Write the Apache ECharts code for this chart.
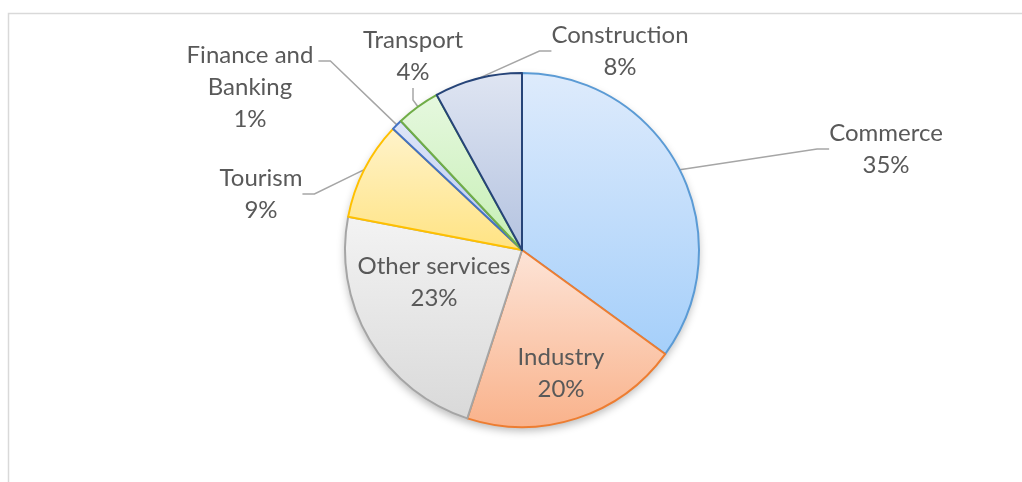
<!DOCTYPE html>
<html>
<head>
<meta charset="utf-8">
<script src="https://cdn.jsdelivr.net/npm/echarts@6/dist/echarts.min.js"></script>
<style>
  html, body { margin: 0; padding: 0; background: #fff; }
  #chart { width: 1022px; height: 482px; }
</style>
</head>
<body>
<div id="chart"></div>
<script>
const sectors = ['Commerce', 'Industry', 'Other services', 'Tourism', 'Finance and Banking', 'Transport', 'Construction'];
const shares = [35, 20, 23, 9, 1, 4, 8];
const borderColors = ['#5b9bd5', '#ed7d31', '#a5a5a5', '#ffc000', '#4472c4', '#70ad47', '#264478'];
const topColors = ['#deebfc', '#fde4d7', '#f3f3f3', '#fff3cb', '#dfe6f8', '#e6f8df', '#dfe5f2'];
const bottomColors = ['#a5cffa', '#f9b28b', '#d9d9d9', '#ffe382', '#b7c8ef', '#c6efb4', '#b4c3e0'];
const insideLabels = ['Other services', 'Industry'];

// where each label block is centred
const labelSpots = {
    'Commerce': [886, 149],
    'Industry': [561, 373],
    'Other services': [434, 282],
    'Tourism': [261, 194],
    'Finance and Banking': [250, 87],
    'Transport': [413, 56],
    'Construction': [620, 51]
};

const CX = 522, CY = 250, R = 177;
const total = shares.reduce((a, b) => a + b, 0);

const chart = echarts.init(document.getElementById('chart'));

const pieData = sectors.map((name, i) => ({
    name: name,
    value: shares[i],
    itemStyle: {
        borderColor: borderColors[i],
        color: new echarts.graphic.LinearGradient(0, 0, 0, 1, [
            { offset: 0, color: topColors[i] },
            { offset: 1, color: bottomColors[i] }
        ])
    },
    labelLine: { show: insideLabels.indexOf(name) < 0 }
}));

// point on the rim in the middle of a slice
function rimPoint(idx) {
    let before = 0;
    for (let i = 0; i < idx; i++) before += shares[i];
    const a = (before + shares[idx] / 2) / total * Math.PI * 2;
    return [CX + Math.sin(a) * R, CY - Math.cos(a) * R];
}

chart.setOption({
    animation: false,
    graphic: [{
        type: 'rect',
        shape: { x: 8.5, y: 13.5, width: 1100, height: 600 },
        style: { fill: 'none', stroke: '#d9d9d9', lineWidth: 1.5 },
        silent: true
    }],
    series: [
        {
            // soft shadow under the pie
            type: 'pie',
            center: [CX, CY],
            radius: R,
            silent: true,
            label: { show: false },
            labelLine: { show: false },
            data: [{ value: total, itemStyle: { color: '#fff', shadowColor: 'rgba(0,0,0,0.28)', shadowBlur: 8, shadowOffsetY: 4 } }]
        },
        {
            type: 'pie',
            center: [CX, CY],
            radius: R,
            startAngle: 90,
            clockwise: true,
            avoidLabelOverlap: false,
            itemStyle: { borderWidth: 2 },
            label: {
                show: true,
                position: 'outside',
                fontFamily: 'Lato',
                fontSize: 24,
                color: '#595959',
                lineHeight: 32,
                align: 'center',
                formatter: p => p.name.replace(' and ', ' and\n') + '\n' + p.value + '%'
            },
            labelLine: {
                show: true,
                length: 20,
                length2: 12,
                lineStyle: { color: '#a6a6a6', width: 1.5 }
            },
            labelLayout: p => {
                const name = sectors[p.dataIndex];
                const spot = labelSpots[name];
                const out = { x: spot[0], y: spot[1], align: 'center', verticalAlign: 'middle' };
                if (name === 'Finance and Banking') {
                    const right = spot[0] + p.labelRect.width / 2;
                    const top = spot[1] - p.labelRect.height / 2;
                    out.labelLinePoints = [rimPoint(p.dataIndex), [right + 17, top + 22], [right + 5, top + 22]];
                }
                return out;
            },
            data: pieData
        }
    ]
});
</script>
</body>
</html>
